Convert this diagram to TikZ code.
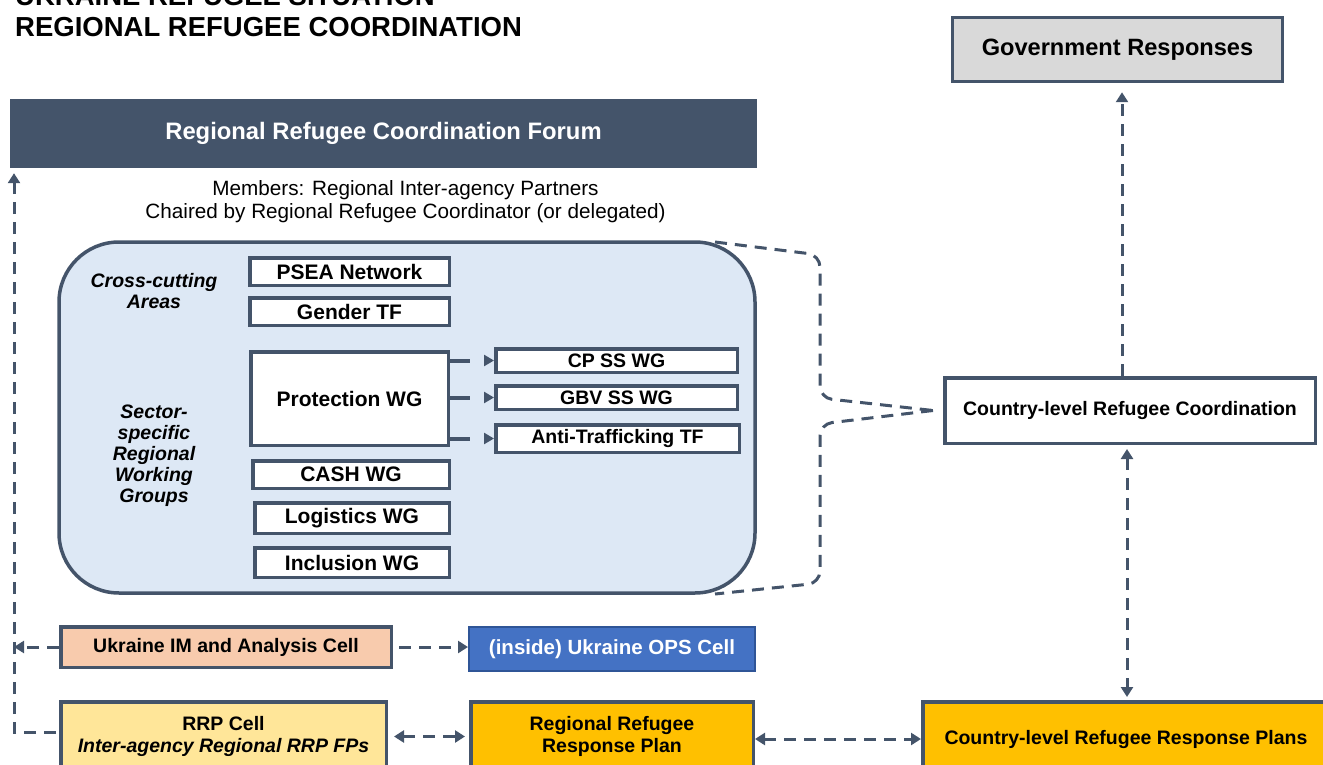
\documentclass[tikz,border=0pt]{standalone}
\usepackage{fontspec}
\setmainfont{Liberation Sans}
\usepackage{tikz}
\usetikzlibrary{
    positioning,      % For placing nodes relative to each other
    arrows.meta       % For modern arrow tips
}

\definecolor{slate}{HTML}{44546A}
\definecolor{groupblue}{HTML}{DDE8F5}
\definecolor{govgray}{HTML}{D9D9D9}
\definecolor{imorange}{HTML}{F8CBAD}
\definecolor{opsblue}{HTML}{4472C4}
\definecolor{opsedge}{HTML}{2F5597}
\definecolor{cellyellow}{HTML}{FFE699}
\definecolor{plangold}{HTML}{FFC000}

\begin{document}
\begin{tikzpicture}[
    x=1pt, y=-1pt,
    % Global style settings
    slate_box/.style={ % Framed boxes with the dark slate border
        draw=slate,
        line width=3.5pt,
        inner sep=0pt,
        align=center,
        font=\bfseries\fontsize{19.5}{22}\selectfont
    },
    wg_box/.style={ % White working group boxes
        slate_box,
        fill=white,
        font=\bfseries\fontsize{21}{22}\selectfont
    },
    sub_box/.style={ % Sub-sector boxes next to Protection WG
        slate_box,
        fill=white,
        minimum width=241.5, minimum height=23.5
    },
    side_label/.style={ % Italic labels inside the rounded area
        align=center,
        inner sep=0pt,
        font=\bfseries\itshape\fontsize{19.5}{21}\selectfont
    },
    tip/.style={
        -{Triangle[length=10pt, width=12pt]}
    },
    dash_line/.style={
        draw=slate,
        line width=3pt,
        dash pattern=on 12pt off 8pt
    },
    dash_arrow/.style={
        dash_line,
        tip
    },
    dash_both/.style={
        dash_line,
        {Triangle[length=10pt, width=12pt]}-{Triangle[length=10pt, width=12pt]}
    },
    sub_arrow/.style={ % Short broken arrows from Protection WG
        draw=slate,
        line width=4pt,
        dash pattern=on 20pt off 30pt,
        -{Triangle[length=10pt, width=11pt]}
    }
]
    \useasboundingbox (0,0) rectangle (1323,765);
    \clip (0,0) rectangle (1323,765);

    % 1. Title in the top left corner
    \node[anchor=south west, inner sep=0pt, align=left,
          font=\bfseries\fontsize{27.5}{31}\selectfont] (title) at (15,37)
        {UKRAINE REFUGEE SITUATION\\REGIONAL REFUGEE COORDINATION};

    % 2. Regional forum with its members and the rounded area of groups
    \node[fill=slate, text=white, minimum width=747, minimum height=69, inner sep=0pt,
          font=\bfseries\fontsize{23.8}{26}\selectfont] (forum) at (383.5,133.5)
        {Regional Refugee Coordination Forum};
    \node[align=center, inner sep=0pt, font=\fontsize{20.7}{23}\selectfont] (members) at (405.5,202)
        {Members: Regional Inter-agency Partners\\Chaired by Regional Refugee Coordinator (or delegated)};
    \node[draw=slate, line width=3.5pt, fill=groupblue, rounded corners=60pt,
          minimum width=696, minimum height=351] (group) at (407,417.5) {};

    % 3. Cross-cutting areas and sector-specific working groups
    \node[side_label] (cross) at (154,291) {Cross-cutting\\Areas};
    \node[side_label] (sector) at (154,455.5) {Sector-\\specific\\Regional\\Working\\Groups};

    \node[wg_box, minimum width=199.5, minimum height=27.5] (psea) at (349.5,271.5) {PSEA Network};
    \node[wg_box, minimum width=199.5, minimum height=27.5] (gender) at (349.5,311.5) {Gender TF};
    \node[wg_box, minimum width=197.5, minimum height=93.5] (protection) at (349.5,398.5) {Protection WG};
    \node[wg_box, minimum width=196.5, minimum height=27.5] (cash) at (351,474.5) {CASH WG};
    \node[wg_box, minimum width=194.5, minimum height=30.5] (logistics) at (352,518) {Logistics WG};
    \node[wg_box, minimum width=194.5, minimum height=29.5] (inclusion) at (352,562.5) {Inclusion WG};

    \node[sub_box] (cpss) at (616.5,360.5) {CP SS WG};
    \node[sub_box] (gbv) at (616.5,397.5) {GBV SS WG};
    \node[sub_box, minimum width=243.5, minimum height=27.5] (antitraf) at (617.5,438.5) {Anti-Trafficking TF};

    \foreach \sub in {cpss, gbv, antitraf}
        \draw[sub_arrow] (protection.east |- \sub.west) -- (\sub.west);

    % 4. Country level and government boxes on the right
    \node[slate_box, fill=govgray, minimum width=330, minimum height=64,
          font=\bfseries\fontsize{23.6}{26}\selectfont] (gov) at (1117.5,49.5) {Government Responses};
    \node[slate_box, fill=white, minimum width=370.5, minimum height=65.5] (country) at (1130,410.5)
        {Country-level Refugee Coordination};

    % 5. Cells and response plans at the bottom
    \node[slate_box, fill=imorange, minimum width=330.5, minimum height=40.5] (im) at (226,647)
        {Ukraine IM and Analysis Cell};
    \node[draw=opsedge, line width=2pt, fill=opsblue, text=white, inner sep=0pt,
          minimum width=286, minimum height=44, font=\bfseries\fontsize{20.5}{22}\selectfont] (ops) at (612,649)
        {(inside) Ukraine OPS Cell};
    \node[slate_box, fill=cellyellow, minimum width=325.5, minimum height=69.5] (rrpcell) at (223.5,736.5)
        {RRP Cell\\\itshape Inter-agency Regional RRP FPs};
    \node[slate_box, fill=plangold, minimum width=282.5, minimum height=69.5] (plan) at (612,736.5)
        {Regional Refugee\\Response Plan};
    \node[slate_box, fill=plangold, minimum width=406.5, minimum height=74.5] (cplans) at (1126,739)
        {Country-level Refugee Response Plans};

    % 6. Dashed bracket joining the rounded area to the country level
    \draw[dash_line, rounded corners=12pt] (715,242) -- (820,255) -- (820,398) -- ([xshift=-10pt]country.west);
    \draw[dash_line, rounded corners=12pt] ([xshift=-10pt]country.west) -- (820,424) -- (820,583) -- (715,594);

    % 7. Dashed connectors
    \coordinate (left_x) at (14,0);
    \coordinate (up_x) at (1122,0);
    \coordinate (down_x) at (1127,0);

    \draw[dash_arrow, shorten >=9pt] (country.north -| up_x) -- (gov.south -| up_x);
    \draw[dash_both, shorten <=4pt, shorten >=3pt] (country.south -| down_x) -- (cplans.north -| down_x);

    \draw[dash_arrow, shorten <=6pt] (im.east) -- (ops.west |- im.east);
    \draw[dash_arrow] (im.west) -- (im.west -| left_x);
    \draw[dash_arrow, shorten <=3pt, shorten >=5pt] ([yshift=4.5pt]rrpcell.west)
        -- ([yshift=4.5pt]rrpcell.west -| left_x) -- (forum.south -| left_x);

    \draw[dash_both, shorten <=6pt, shorten >=4pt] (rrpcell.east) -- (plan.west);
    \draw[dash_both] (plan.east |- cplans.west) -- (cplans.west);

\end{tikzpicture}
\end{document}
